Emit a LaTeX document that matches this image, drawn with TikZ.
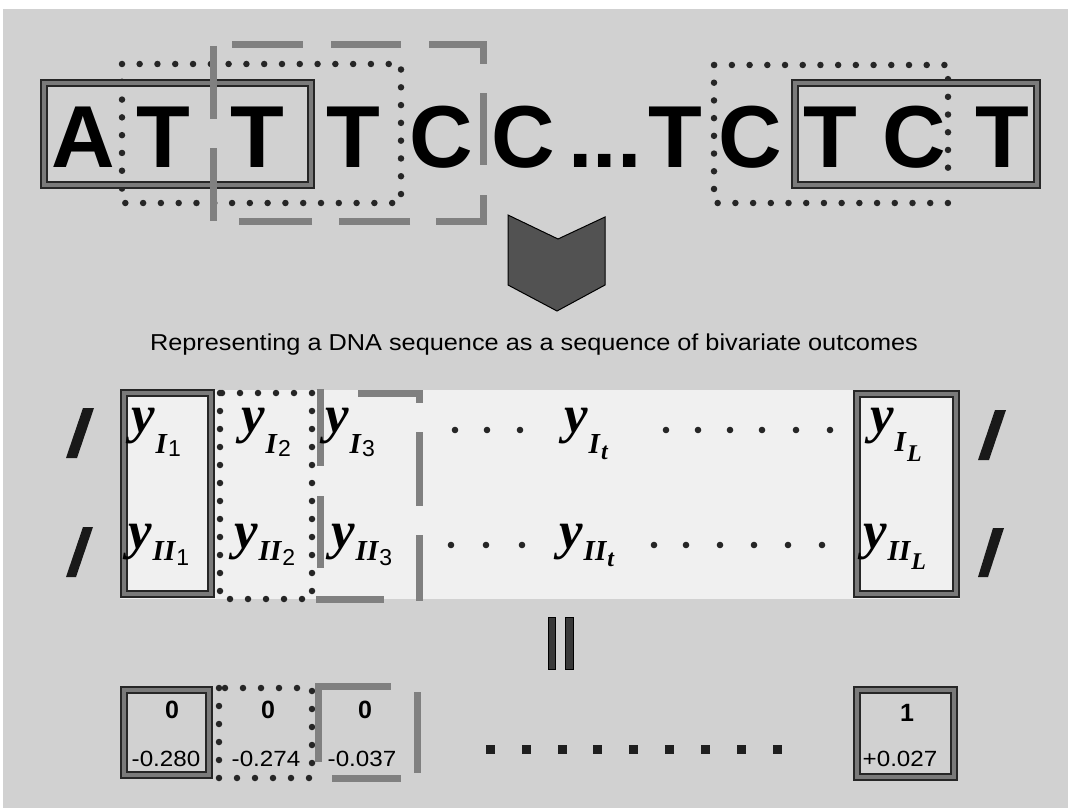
\documentclass[tikz,border=0pt]{standalone}
\usepackage{fontspec}
\usepackage{graphicx}
\setmainfont{Liberation Sans}
\newfontfamily\yserif{Liberation Serif}
\newcommand\fs[1]{\fontsize{#1}{#1}\selectfont}
% y label: #1 sub, #2 subsub, #3 sub drop, #4 subsub drop
\newcommand\ylab[4]{{\yserif\bfseries\itshape\fs{53}y}\kern1pt\raisebox{-#3pt}{{\yserif\bfseries\itshape\fs{29}#1}\kern1pt\raisebox{-#4pt}{#2}}}
\newcommand\subdg[1]{{\normalfont\fs{23}#1}}
\newcommand\subit[1]{{\yserif\bfseries\itshape\fs{24}#1}}
\begin{document}
\begin{tikzpicture}[x=1pt,y=-1pt,
  bigletter/.style={anchor=base, inner sep=0pt, font=\bfseries\fs{88}},
  lab/.style={anchor=base west, inner sep=0pt},
  numtop/.style={anchor=base, inner sep=0pt, font=\bfseries\fs{25}},
  numbot/.style={anchor=base, inner sep=0pt, font=\fs{22}},
  solidbox/.style={draw=black!85, line width=1.7pt, double=black!52, double distance=4.8pt},
  dashseg/.style={draw=black!50, line width=7pt, line join=miter},
  dotbox/.style={draw=black!85, line width=6.5pt, line cap=round, dash pattern=on 0pt off #1},
  dotbox/.default=17.8pt,
  mdot/.style={fill=black!85},
  slashmark/.style={fill=black!90},
]
\useasboundingbox (0,0) rectangle (1068,808);
\fill[white] (0,0) rectangle (1068,808);
\fill[black!18] (3,9) rectangle (1068,808);

% ---------- top: DNA sequence ----------
\draw[dotbox=17.79pt] (122,64) rectangle (401,203);
\draw[dotbox=17.71pt] (714,65) rectangle (948,203);
\draw[solidbox] (44,83) rectangle (311,185);
\draw[solidbox] (795,83) rectangle (1037,185);
% dashed box
\draw[dashseg] (213,46) -- (213,119);
\draw[dashseg] (213,148) -- (213,221);
\draw[dashseg] (232,45) -- (303,45);
\draw[dashseg] (331,45) -- (401,45);
\draw[dashseg] (429,45) -- (483,45) -- (483,64);
\draw[dashseg] (483,93) -- (483,165);
\draw[dashseg] (483,195) -- (483,221) -- (436,221);
\draw[dashseg] (410,221) -- (339,221);
\draw[dashseg] (312,221) -- (239,221);

\node[bigletter] (s1) at (83,167) {A};
\node[bigletter] (s2) at (163,167) {T};
\node[bigletter] (s3) at (257,167) {T};
\node[bigletter] (s4) at (353,167) {T};
\node[bigletter] (s5) at (441,167) {C};
\node[bigletter] (s6) at (523,167) {C};
\node[bigletter] (sdots) at (605,167) {...};
\node[bigletter] (s7) at (675,167) {T};
\node[bigletter] (s8) at (750,167) {C};
\node[bigletter] (s9) at (830,167) {T};
\node[bigletter] (s10) at (914,167) {C};
\node[bigletter] (s11) at (1002,167) {T};

% ---------- arrow ----------
\filldraw[fill=black!68, draw=black, line width=1pt]
  (508,215) -- (558,239) -- (605,217) -- (605,285) -- (557,311) -- (508,285) -- cycle;

% ---------- caption ----------
\node[anchor=base, inner sep=0pt] (cap) at (534,350)
  {\fs{23}\scalebox{1.1}[1]{Representing a DNA sequence as a sequence of bivariate outcomes}};

% ---------- middle matrix ----------
\fill[white!94!black] (120,390) rectangle (960,599);
\draw[dotbox=18pt] (220,393) rectangle (312,599);
\draw[solidbox] (124,393) rectangle (211,594);
\draw[solidbox] (857,394) rectangle (956,594);
\draw[dashseg] (320,389) -- (320,466);
\draw[dashseg] (320,496) -- (320,568);
\draw[dashseg] (358,393) -- (419,393) -- (419,403);
\draw[dashseg] (419,432) -- (419,506);
\draw[dashseg] (419,535) -- (419,601);
\draw[dashseg] (316,599) -- (384,599);

% slashes
\fill[slashmark] (83,408) -- (94,408) -- (77,458) -- (66,458) -- cycle;
\fill[slashmark] (83,527) -- (93,527) -- (76,577) -- (66,577) -- cycle;
\fill[slashmark] (995,410) -- (1006,410) -- (989,460) -- (978,460) -- cycle;
\fill[slashmark] (993,528) -- (1004,528) -- (988,577) -- (978,577) -- cycle;

% labels row I
\node[lab] (yI1) at (131,432) {\ylab{I}{\subdg{1}}{21}{3}};
\node[lab] (yI2) at (241,432) {\ylab{I}{\subdg{2}}{21}{3}};
\node[lab] (yI3) at (325,432) {\ylab{I}{\subdg{3}}{21}{3}};
\node[lab] (yIt) at (564,432) {\ylab{I}{\subit{t}}{21}{6}};
\node[lab] (yIL) at (870,432) {\ylab{I}{\subit{L}}{19}{10}};
% labels row II
\node[lab] (yII1) at (128,548) {\ylab{II}{\subdg{1}}{12}{5}};
\node[lab] (yII2) at (234,548) {\ylab{II}{\subdg{2}}{12}{5}};
\node[lab] (yII3) at (331,548) {\ylab{II}{\subdg{3}}{12}{5}};
\node[lab] (yIIt) at (559,548) {\ylab{II}{\subit{t}}{12}{6}};
\node[lab] (yIIL) at (863,548) {\ylab{II}{\subit{L}}{12}{9}};

% dots
\foreach \x in {455,487,520,666,698,730,762,796,830} \fill[mdot] (\x,430) circle (3.3pt);
\foreach \x in {451,486,522,654,686,720,754,788,822} \fill[mdot] (\x,545) circle (3.3pt);

% ---------- equals ----------
\filldraw[fill=black!78, draw=black, line width=0.8pt] (548,617) rectangle (555,669);
\filldraw[fill=black!78, draw=black, line width=0.8pt] (565,617) rectangle (573,669);

% ---------- bottom row ----------
\draw[dotbox=18pt] (219,688) rectangle (312,778);
\draw[solidbox] (124,690) rectangle (209,775);
\draw[solidbox] (857,690) rectangle (954,777);
\draw[dashseg] (318,762) -- (318,686) -- (391,686);
\draw[dashseg] (417,692) -- (417,773);
\draw[dashseg] (332,778) -- (401,778);

\node[numtop] (b1) at (172,718) {0};
\node[numtop] (b2) at (268,718) {0};
\node[numtop] (b3) at (365,718) {0};
\node[numtop] (b4) at (907,721) {1};
\node[numbot] (v1) at (166,766) {\scalebox{1.1}[1]{-0.280}};
\node[numbot] (v2) at (266,766) {\scalebox{1.1}[1]{-0.274}};
\node[numbot] (v3) at (362,766) {\scalebox{1.1}[1]{-0.037}};
\node[numbot] (v4) at (900,766) {\scalebox{1.1}[1]{+0.027}};

\foreach \x in {490,526,562,597,633,669,705,741,777}
  \fill[black!88] (\x-4.5,744.5) rectangle (\x+4.5,753.5);
\end{tikzpicture}
\end{document}
